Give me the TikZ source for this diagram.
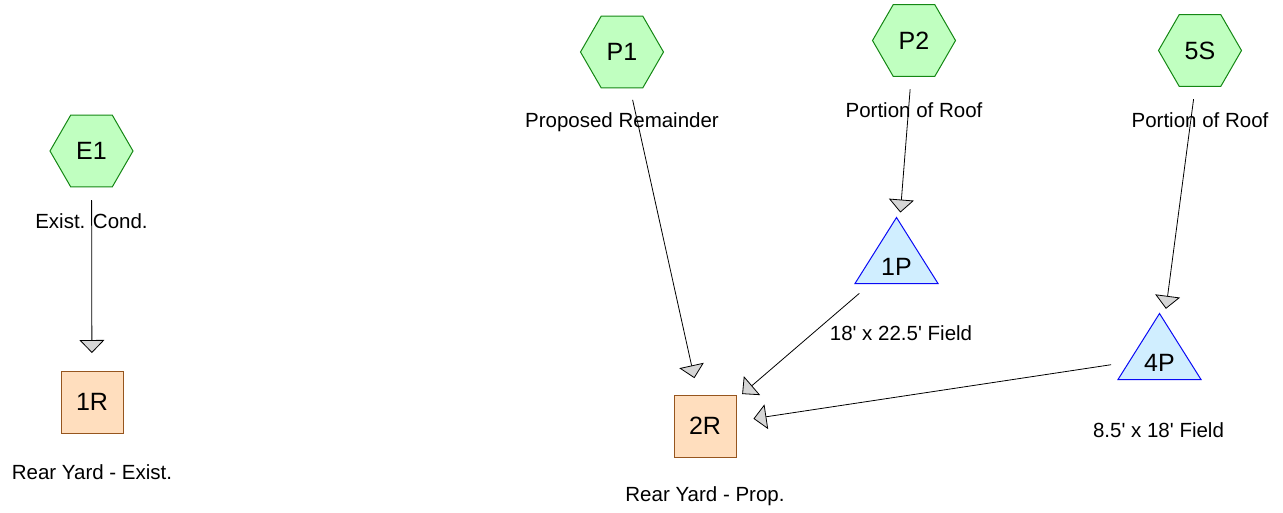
\documentclass[tikz,border=0pt]{standalone}
\usepackage{fontspec}
\setmainfont{Liberation Sans}
\usetikzlibrary{arrows.meta,positioning,shapes.geometric,calc}
\definecolor{hexfill}{RGB}{192,255,192}
\definecolor{hexline}{RGB}{20,135,20}
\definecolor{boxfill}{RGB}{255,222,190}
\definecolor{boxline}{RGB}{150,85,30}
\definecolor{trifill}{RGB}{208,238,255}
\definecolor{triline}{RGB}{10,10,245}
\definecolor{tipfill}{RGB}{214,214,214}
\tikzset{
  hexn/.style={regular polygon, regular polygon sides=6, draw=hexline, fill=hexfill,
               line width=1pt, inner sep=0pt, minimum size=83pt, font=\fontsize{25}{30}\selectfont},
  boxn/.style={rectangle, draw=boxline, fill=boxfill, line width=1pt, inner sep=0pt,
               minimum size=62pt, font=\fontsize{25}{30}\selectfont},
  trin/.style={isosceles triangle, shape border rotate=90, isosceles triangle stretches,
               draw=triline, fill=trifill, line width=1pt, inner sep=0pt,
               minimum height=66pt, minimum width=83pt, anchor=lower side,
               font=\fontsize{25}{30}\selectfont},
  lbl/.style={font=\fontsize{20.5}{24}\selectfont, inner sep=0pt},
  conn/.style={-{Triangle[length=13pt, width=25pt, fill=tipfill]}, line width=0.8pt,
               shorten <=49pt, shorten >=49pt},
}
\begin{document}
\begin{tikzpicture}[x=1pt, y=-1pt]
    \useasboundingbox (0,0) rectangle (1283,512);
    % existing condition
    \node[hexn](e1) at (91.5,151){E1};
    \node[lbl](e1lbl) at (91.5,221){Exist. Cond.};
    \node[boxn](r1) at (92,402){1R};
    \node[lbl](r1lbl) at (92,472){Rear Yard - Exist.};
    % proposed
    \node[hexn](p1) at (622,52){P1};
    \node[lbl](p1lbl) at (622,122){Proposed Remainder};
    \node[hexn](p2) at (914,40.5){P2};
    \node[lbl](p2lbl) at (914,110){Portion of Roof};
    \node[hexn](s5) at (1200,50.5){5S};
    \node[lbl](s5lbl) at (1200,120){Portion of Roof};
    \node[trin](t1) at (896.5,284){1P};
    \node[lbl](t1lbl) at (901,333){18\textquotesingle{} x 22.5\textquotesingle{} Field};
    \node[trin](t4) at (1159.5,380){4P};
    \node[lbl](t4lbl) at (1158.5,430){8.5\textquotesingle{} x 18\textquotesingle{} Field};
    \node[boxn](r2) at (705,426){2R};
    \node[lbl](r2lbl) at (705,496){Rear Yard - Prop.};
    % triangle centroids
    \coordinate (t1c) at ($(t1.apex)!2/3!(t1.lower side)$);
    \coordinate (t4c) at ($(t4.apex)!2/3!(t4.lower side)$);
    \draw[conn](e1.center)--(r1.center);
    \draw[conn](p1.center)--(r2.center);\draw[conn](p2.center)--(t1c);\draw[conn](s5.center)--(t4c);
    \draw[conn](t1c)--(r2.center);\draw[conn](t4c)--(r2.center);
\end{tikzpicture}
\end{document}
